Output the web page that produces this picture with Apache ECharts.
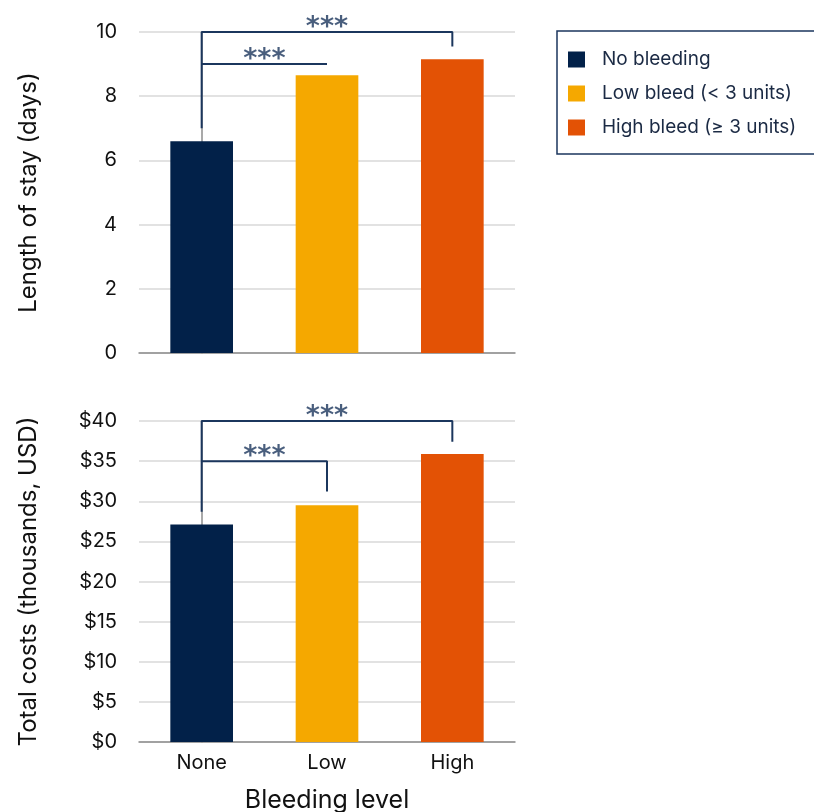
<!DOCTYPE html>
<html>
<head>
<meta charset="utf-8">
<script src="https://cdn.jsdelivr.net/npm/echarts@6/dist/echarts.min.js"></script>
<style>html,body{margin:0;padding:0;background:#fff;}#chart{width:814px;height:812px;}</style>
</head>
<body>
<div id="chart"></div>
<script>
// ---- data ----
const categories = ['None', 'Low', 'High'];
const seriesNames = ['No bleeding', 'Low bleed (< 3 units)', 'High bleed (\u2265 3 units)'];
const losValues = [6.6, 8.65, 9.15];          // length of stay (days)
const costValues = [27.1, 29.5, 35.9];        // total costs (thousands USD)
// significance brackets: [x (category index), y] paths
const losBrackets = [
  [[0, 7.0], [0, 10], [2, 10], [2, 9.55]],
  [[0, 9.0], [1, 9.0]]
];
const losStars = [[1, 10], [0.5, 9.0]];
const costBrackets = [
  [[0, 28.7], [0, 40], [2, 40], [2, 37.4]],
  [[0, 35], [1, 35], [1, 31.2]]
];
const costStars = [[1, 40], [0.5, 35]];
const starText = '***';
const colors = ['#022149', '#F5A800', '#E35205'];
const bracketColor = '#1B365D';
const FONT = 'Inter';

const chart = echarts.init(document.getElementById('chart'));

function barSeries(values, gi) {
  return categories.map((c, i) => ({
    name: seriesNames[i],
    type: 'bar',
    xAxisIndex: gi * 2,
    yAxisIndex: gi,
    stack: 'g' + gi,
    barWidth: '50%',
    itemStyle: { color: colors[i] },
    data: categories.map((cc, j) => (j === i ? values[i] : '-'))
  }));
}
function bracketSeries(paths, stars, gi) {
  const out = paths.map(p => ({
    type: 'line',
    xAxisIndex: gi * 2 + 1,
    yAxisIndex: gi,
    data: p,
    symbol: 'none',
    clip: false,
    silent: true,
    lineStyle: { color: bracketColor, width: 2 },
    z: 5
  }));
  out.push({
    type: 'scatter',
    xAxisIndex: gi * 2 + 1,
    yAxisIndex: gi,
    data: stars,
    symbolSize: 1,
    itemStyle: { color: 'rgba(0,0,0,0)' },
    clip: false,
    silent: true,
    label: {
      show: true, position: 'top', distance: -10,
      formatter: starText, color: bracketColor,
      fontFamily: 'DejaVu Sans', fontSize: 27, fontWeight: 'bold'
    }
  });
  return out;
}

const gridTops = [32, 421];
const option = {
  animation: false,
  textStyle: { fontFamily: FONT },
  legend: {
    orient: 'vertical',
    left: 557, top: 31,
    data: seriesNames,
    icon: 'rect',
    itemWidth: 17, itemHeight: 16,
    itemGap: 15,
    padding: [19, 60, 17, 11],
    borderColor: '#1B365D', borderWidth: 1.5,
    textStyle: { fontFamily: FONT, fontSize: 19, color: '#1B2A44', padding: [0, 0, 0, 12] }
  },
  grid: gridTops.map(t => ({ left: 139, width: 376, top: t, height: 321, containLabel: false, outerBoundsMode: 'none' })),
  xAxis: [
    { type: 'category', gridIndex: 0, data: categories,
      axisLine: { lineStyle: { color: '#8c8c8c', width: 1.5 } }, axisTick: { show: false }, axisLabel: { show: false } },
    { type: 'value', gridIndex: 0, min: -0.5, max: 2.5, show: false },
    { type: 'category', gridIndex: 1, data: categories,
      axisLine: { lineStyle: { color: '#8c8c8c', width: 1.5 } }, axisTick: { show: false },
      axisLabel: { color: '#111', fontSize: 20, margin: 11, fontFamily: FONT },
      name: 'Bleeding level', nameLocation: 'middle', nameGap: 46,
      nameTextStyle: { color: '#111', fontSize: 25, fontFamily: FONT } },
    { type: 'value', gridIndex: 1, min: -0.5, max: 2.5, show: false }
  ],
  yAxis: [
    { type: 'value', gridIndex: 0, min: 0, max: 10, interval: 2,
      axisLine: { show: true, lineStyle: { color: '#8c8c8c', width: 1.5 } }, axisTick: { show: false },
      splitLine: { lineStyle: { color: '#d9d9d9', width: 1.5 } },
      axisLabel: { color: '#111', fontSize: 20, margin: 22, fontFamily: FONT },
      name: 'Length of stay (days)', nameLocation: 'middle', nameGap: 98,
      nameTextStyle: { color: '#111', fontSize: 24, fontFamily: FONT } },
    { type: 'value', gridIndex: 1, min: 0, max: 40, interval: 5,
      axisLine: { show: true, lineStyle: { color: '#8c8c8c', width: 1.5 } }, axisTick: { show: false },
      splitLine: { lineStyle: { color: '#d9d9d9', width: 1.5 } },
      axisLabel: { color: '#111', fontSize: 20, margin: 22, fontFamily: FONT, formatter: v => '$' + v },
      name: 'Total costs (thousands, USD)', nameLocation: 'middle', nameGap: 98,
      nameTextStyle: { color: '#111', fontSize: 24, fontFamily: FONT } }
  ],
  series: [
    ...barSeries(losValues, 0),
    ...barSeries(costValues, 1),
    ...bracketSeries(losBrackets, losStars, 0),
    ...bracketSeries(costBrackets, costStars, 1)
  ]
};
chart.setOption(option);
</script>
</body>
</html>
